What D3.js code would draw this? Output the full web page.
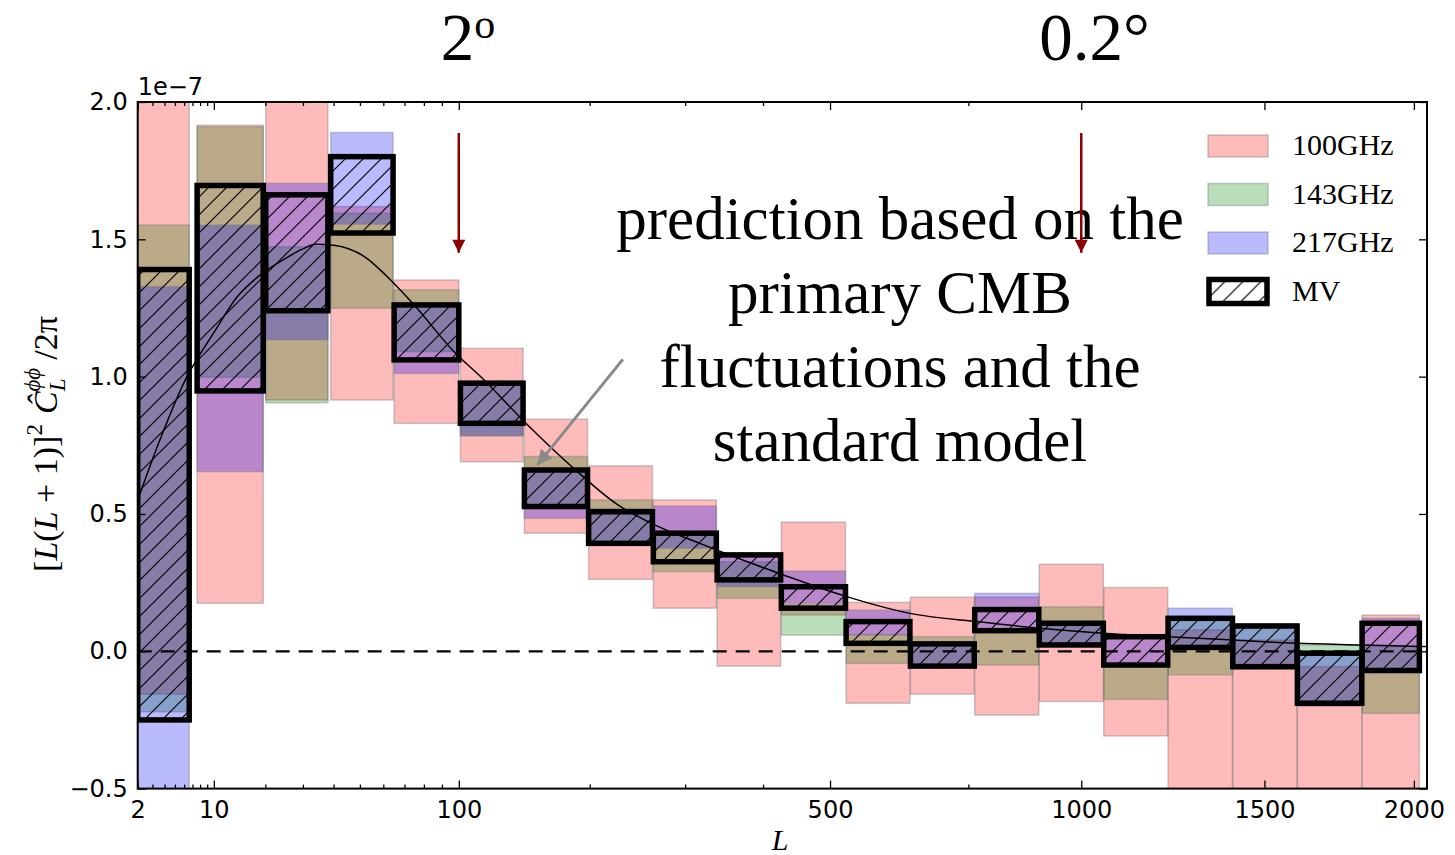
<!DOCTYPE html>
<html>
<head>
<meta charset="utf-8">
<script src="https://cdn.jsdelivr.net/npm/d3@7"></script>
<style>
  body { margin: 0; background: #fff; }
  svg { display: block; }
</style>
</head>
<body>
<svg id="chart" width="1455" height="855"></svg>
<script>
// multipole bins (L range of each band power)
const binMin = [2, 7.6, 20.1, 39, 65, 101, 145, 199, 264, 339, 426, 526, 638, 763, 902, 1055, 1222, 1405, 1603, 1817];
const binMax = [6.6, 19.5, 38, 64.5, 100, 144, 198, 263, 338, 425, 525, 637, 762, 901, 1054, 1221, 1404, 1602, 1816, 2020];

// band power error ranges per frequency, units of 1e-7
const lo100 = [-0.156, 0.175, 0.915, 0.915, 0.83, 0.69, 0.43, 0.262, 0.157, -0.054, 0.132, -0.189, -0.156, -0.232, -0.183, -0.308, -0.6, -0.6, -0.6, -0.6];
const hi100 = [2.3, 1.915, 2.3, 1.619, 1.352, 1.103, 0.845, 0.675, 0.551, 0.35, 0.47, 0.178, 0.197, 0.197, 0.317, 0.232, 0.078, 0.041, -0.056, 0.132];
const lo143 = [-0.22, 0.998, 0.905, 1.249, 1.091, 0.785, 0.535, 0.40, 0.29, 0.193, 0.059, -0.044, -0.05, -0.05, 0.02, -0.175, -0.086, -0.065, -0.19, -0.226];
const hi143 = [1.552, 1.91, 1.473, 1.595, 1.316, 0.985, 0.709, 0.551, 0.43, 0.326, 0.17, 0.06, 0.053, 0.08, 0.162, -0.045, 0.12, 0.10, 0.023, 0.017];
const lo217 = [-0.6, 0.654, 1.134, 1.555, 1.012, 0.785, 0.484, 0.40, 0.375, 0.235, 0.175, 0.06, -0.045, 0.08, 0.03, -0.05, 0.011, -0.06, -0.20, -0.07];
const hi217 = [1.328, 1.552, 1.704, 1.889, 1.27, 0.97, 0.655, 0.52, 0.529, 0.35, 0.292, 0.15, 0.027, 0.211, 0.10, 0.05, 0.157, 0.10, -0.005, 0.12];
const loMV = [-0.25, 0.948, 1.24, 1.523, 1.061, 0.83, 0.527, 0.393, 0.326, 0.26, 0.157, 0.029, -0.054, 0.075, 0.023, -0.05, 0.014, -0.056, -0.189, -0.07];
const hiMV = [1.39, 1.696, 1.662, 1.801, 1.261, 0.976, 0.66, 0.508, 0.43, 0.351, 0.235, 0.108, 0.027, 0.152, 0.102, 0.053, 0.12, 0.092, -0.007, 0.102];

// standard model prediction
const theoryL = [2, 3.6, 6.5, 7.5, 10, 14, 18.8, 25, 30, 34, 40, 53, 61, 74, 98, 115, 145, 184, 227, 262, 320, 349, 429, 527, 637, 767, 903, 1053, 1221, 1405, 1600, 1816, 2048];
const theoryC = [0.55, 0.77, 1.01, 1.06, 1.16, 1.29, 1.37, 1.43, 1.465, 1.482, 1.478, 1.43, 1.37, 1.268, 1.085, 0.994, 0.836, 0.672, 0.533, 0.466, 0.39, 0.357, 0.278, 0.199, 0.138, 0.108, 0.084, 0.066, 0.053, 0.041, 0.029, 0.023, 0.017];

// axis ticks
const xMajor = [2, 10, 100, 500, 1000, 1500, 2000];
const xMinor = [3, 4, 5, 6, 7, 8, 9, 20, 30, 40, 50, 60, 70, 80, 90, 200, 300, 400, 750];
const yMajor = [-0.5, 0, 0.5, 1.0, 1.5, 2.0];

// legend / series
const seriesNames = ["100GHz", "143GHz", "217GHz", "MV"];
const seriesColors = ["#ff0000", "#008000", "#0000ff"];

// angular scale markers
const scaleL = [100, 1000];
const scaleText = ["2", "0.2"];

const svg = d3.select("#chart");

const x = d3.scalePow().exponent(0.405).domain([2, 2048]).range([137.7, 1427]);
const y = d3.scaleLinear().domain([-0.5, 2.0]).range([788.6, 102]);
const [x0, x1] = x.range();
const [y0, y1] = y.range();

const defs = svg.append("defs");
defs.append("clipPath").attr("id", "plotClip")
    .append("rect")
    .attr("x", x0).attr("y", y1)
    .attr("width", x1 - x0).attr("height", y0 - y1);

//hatch like matplotlib '//'
const hatch = defs.append("pattern")
    .attr("id", "hatch")
    .attr("patternUnits", "userSpaceOnUse")
    .attr("width", 18).attr("height", 18);
hatch.append("path")
    .attr("d", "M-2,2 L2,-2 M0,18 L18,0 M16,20 L20,16")
    .attr("stroke", "#000")
    .attr("stroke-width", 1.2);

defs.append("marker")
    .attr("id", "redHead")
    .attr("viewBox", "0 0 10 10")
    .attr("refX", 10).attr("refY", 5)
    .attr("markerWidth", 16).attr("markerHeight", 13)
    .attr("markerUnits", "userSpaceOnUse")
    .attr("orient", "auto")
    .append("path").attr("d", "M0,0 L10,5 L0,10 z").attr("fill", "#8b0000");

defs.append("marker")
    .attr("id", "grayHead")
    .attr("viewBox", "0 0 10 10")
    .attr("refX", 10).attr("refY", 5)
    .attr("markerWidth", 20).attr("markerHeight", 15)
    .attr("markerUnits", "userSpaceOnUse")
    .attr("orient", "auto")
    .append("path").attr("d", "M0,0 L10,5 L0,10 z").attr("fill", "#8a8a8a");

const plot = svg.append("g").attr("clip-path", "url(#plotClip)");

//bands for each frequency
const bandLows = [lo100, lo143, lo217];
const bandHighs = [hi100, hi143, hi217];

bandLows.forEach((lows, i) => {
    const rows = binMin.map((d, j) => ({ l0: d, l1: binMax[j], lo: lows[j], hi: bandHighs[i][j] }));
    plot.append("g")
        .selectAll("rect")
        .data(rows)
        .enter()
        .append("rect")
        .attr("x", d => x(d.l0))
        .attr("width", d => x(d.l1) - x(d.l0))
        .attr("y", d => y(d.hi))
        .attr("height", d => y(d.lo) - y(d.hi))
        .attr("fill", seriesColors[i])
        .attr("fill-opacity", 0.27)
        .attr("stroke", "#7a7a7a")
        .attr("stroke-opacity", 0.4)
        .attr("stroke-width", 1.5);
});

//zero line
plot.append("line")
    .attr("x1", x0).attr("x2", x1)
    .attr("y1", y(0)).attr("y2", y(0))
    .attr("stroke", "#000")
    .attr("stroke-width", 2.2)
    .attr("stroke-dasharray", "14,9");

//theory curve
const theory = theoryL.map((d, i) => [d, theoryC[i]]);
plot.append("path")
    .datum(theory)
    .attr("d", d3.line().x(d => x(d[0])).y(d => y(d[1])).curve(d3.curveMonotoneX))
    .attr("fill", "none")
    .attr("stroke", "#000")
    .attr("stroke-width", 1.5);

//minimum variance combination
const mvRows = binMin.map((d, j) => ({ l0: d, l1: binMax[j], lo: loMV[j], hi: hiMV[j] }));
plot.append("g")
    .selectAll("rect")
    .data(mvRows)
    .enter()
    .append("rect")
    .attr("x", d => x(d.l0))
    .attr("width", d => x(d.l1) - x(d.l0))
    .attr("y", d => y(d.hi))
    .attr("height", d => y(d.lo) - y(d.hi))
    .attr("fill", "url(#hatch)")
    .attr("stroke", "#000")
    .attr("stroke-width", 5.5);

//axes, ticks pointing inwards
const fontTick = "'DejaVu Sans', sans-serif";
function styleAxis(g) {
    g.select(".domain").remove();
    g.selectAll(".tick line").attr("stroke", "#000").attr("stroke-width", 1.3);
    g.selectAll(".tick text").attr("fill", "#000").style("font-family", fontTick).style("font-size", "24px");
}

svg.append("g").attr("transform", `translate(0,${y0})`)
    .call(d3.axisBottom(x).tickValues(xMajor).tickSize(-8).tickPadding(12).tickFormat(d3.format("d")))
    .call(styleAxis);
svg.append("g").attr("transform", `translate(0,${y0})`)
    .call(d3.axisBottom(x).tickValues(xMinor).tickSize(-4).tickFormat(""))
    .call(styleAxis);
svg.append("g").attr("transform", `translate(0,${y1})`)
    .call(d3.axisTop(x).tickValues(xMajor).tickSize(-8).tickFormat(""))
    .call(styleAxis);
svg.append("g").attr("transform", `translate(0,${y1})`)
    .call(d3.axisTop(x).tickValues(xMinor).tickSize(-4).tickFormat(""))
    .call(styleAxis);
svg.append("g").attr("transform", `translate(${x0},0)`)
    .call(d3.axisLeft(y).tickValues(yMajor).tickSize(-8).tickPadding(10).tickFormat(d3.format(".1f")))
    .call(styleAxis);
svg.append("g").attr("transform", `translate(${x1},0)`)
    .call(d3.axisRight(y).tickValues(yMajor).tickSize(-8).tickFormat(""))
    .call(styleAxis);

svg.append("rect")
    .attr("x", x0).attr("y", y1)
    .attr("width", x1 - x0).attr("height", y0 - y1)
    .attr("fill", "none")
    .attr("stroke", "#000")
    .attr("stroke-width", 2);

svg.append("text")
    .attr("x", x0).attr("y", 95)
    .style("font-family", fontTick).style("font-size", "24px")
    .text("1e\u22127");

//axis labels
const serif = "'Liberation Serif', 'Times New Roman', serif";
svg.append("text")
    .attr("x", 780).attr("y", 850)
    .attr("text-anchor", "middle")
    .style("font-family", serif).style("font-size", "30px").style("font-style", "italic")
    .text("L");

const ylab = svg.append("text")
    .attr("transform", "translate(57,444) rotate(-90)")
    .attr("text-anchor", "middle")
    .style("font-family", serif).style("font-size", "34px");
ylab.append("tspan").text("[");
ylab.append("tspan").style("font-style", "italic").text("L");
ylab.append("tspan").text("(");
ylab.append("tspan").style("font-style", "italic").text("L");
ylab.append("tspan").text(" + 1)]");
ylab.append("tspan").attr("dy", -15).style("font-size", "23px").text("2");
ylab.append("tspan").attr("dy", 15).attr("dx", 10).style("font-style", "italic").text("\u0108");
ylab.append("tspan").attr("dy", 8).style("font-size", "23px").style("font-style", "italic").text("L");
ylab.append("tspan").attr("dy", -25).attr("dx", -13).style("font-size", "23px").style("font-style", "italic").text("\u03d5\u03d5");
ylab.append("tspan").attr("dy", 17).attr("dx", 8).text("/2\u03c0");

//angular scale labels and arrows
scaleL.forEach((L, i) => {
    const t = svg.append("text")
        .attr("x", x(L) - (i === 0 ? 18 : 42)).attr("y", 60)
        .style("font-family", serif).style("font-size", "67px");
    t.append("tspan").text(scaleText[i]);
    if (i === 0) {
        t.append("tspan").attr("dy", -22).style("font-size", "42px").text("o");
    } else {
        t.append("tspan").text("\u00b0");
    }
});

//annotation text
const noteLines = ["prediction based on the", "primary CMB", "fluctuations and the", "standard model"];
svg.append("g")
    .selectAll("text")
    .data(noteLines)
    .enter()
    .append("text")
    .attr("x", 900)
    .attr("y", (d, i) => 239 + i * 74)
    .attr("text-anchor", "middle")
    .style("font-family", serif).style("font-size", "61px")
    .text(d => d);

svg.append("line")
    .attr("x1", x(232)).attr("y1", y(1.063))
    .attr("x2", x(155)).attr("y2", y(0.678))
    .attr("stroke", "#8a8a8a")
    .attr("stroke-width", 3)
    .attr("marker-end", "url(#grayHead)");

scaleL.forEach(L => {
    svg.append("line")
        .attr("x1", x(L)).attr("y1", y(1.887))
        .attr("x2", x(L)).attr("y2", y(1.451))
        .attr("stroke", "#8b0000")
        .attr("stroke-width", 2.5)
        .attr("marker-end", "url(#redHead)");
});

//legend
const legend = svg.append("g").attr("transform", "translate(1208,135)");
const rowGap = 48.5;
seriesNames.forEach((name, i) => {
    const row = legend.append("g").attr("transform", `translate(0,${i * rowGap})`);
    if (i < 3) {
        row.append("rect")
            .attr("width", 60).attr("height", 22)
            .attr("fill", seriesColors[i]).attr("fill-opacity", 0.27)
            .attr("stroke", "#7a7a7a").attr("stroke-opacity", 0.4).attr("stroke-width", 1.5);
    } else {
        row.append("rect")
            .attr("x", 1).attr("y", -1)
            .attr("width", 58).attr("height", 24)
            .attr("fill", "url(#hatch)")
            .attr("stroke", "#000").attr("stroke-width", 5.5);
    }
    row.append("text")
        .attr("x", 84).attr("y", 20)
        .style("font-family", serif).style("font-size", "30px")
        .text(name);
});
</script>
</body>
</html>
